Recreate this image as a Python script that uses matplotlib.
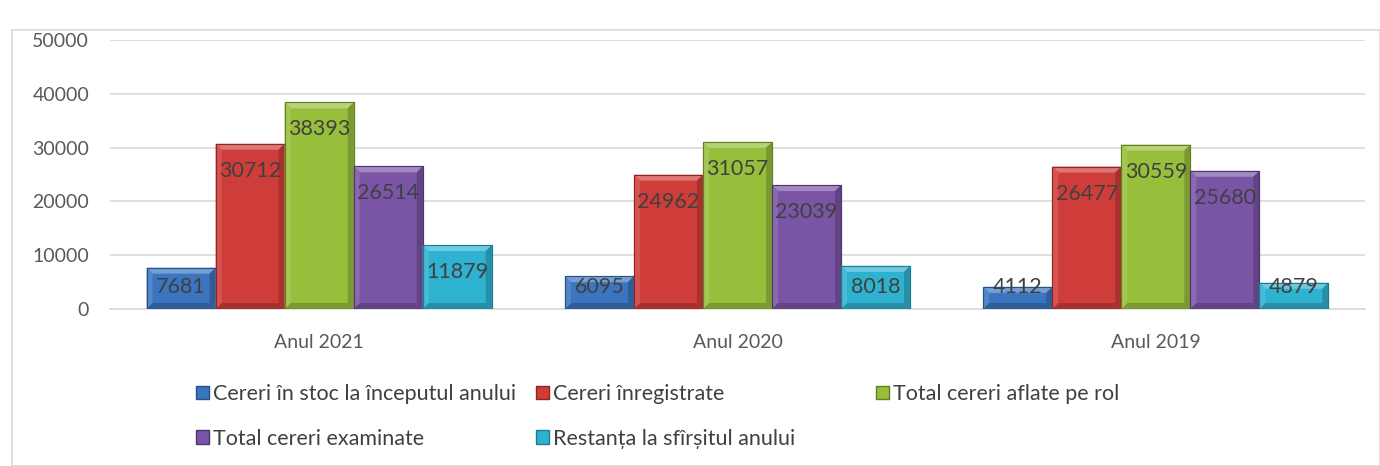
import numpy as np
import matplotlib
matplotlib.use("Agg")
import matplotlib.pyplot as plt
from matplotlib.patches import Rectangle, Patch, Polygon
from matplotlib.colors import to_rgb

plt.rcParams["font.family"] = ["Lato", "DejaVu Sans"]

categories = ["Anul 2021", "Anul 2020", "Anul 2019"]
series = ["Cereri în stoc la începutul anului", "Cereri înregistrate",
          "Total cereri aflate pe rol", "Total cereri examinate",
          "Restanța la sfîrșitul anului"]
stoc = [7681, 6095, 4112]
inregistrate = [30712, 24962, 26477]
pe_rol = [38393, 31057, 30559]
examinate = [26514, 23039, 25680]
restanta = [11879, 8018, 4879]
values = [stoc, inregistrate, pe_rol, examinate, restanta]
colors = ["#3b74bf", "#cf3d3a", "#98bf3c", "#7a55a6", "#2fb2cf"]
edges = ["#24528c", "#8f2624", "#62801f", "#4f3470", "#1c7c93"]


def mix(c, other, t):
    a, b = np.array(to_rgb(c)), np.array(to_rgb(other))
    return tuple(a * (1 - t) + b * t)


fig = plt.figure(figsize=(13.8, 4.66), dpi=100)
fig.patches.append(Rectangle((12 / 1380, 0), 1 - 12 / 1380, 1 - 30 / 466, transform=fig.transFigure,
                             fill=False, edgecolor="#d9d9d9", linewidth=1.2))
ax = fig.add_axes([110 / 1380, (466 - 309) / 466, 1255 / 1380, 269 / 466])
ax.set_ylim(0, 50000)
ax.set_xlim(-0.5, 2.5)

x = np.arange(len(categories))
w = 0.165
ppy = 50000 / 269          # data units per pixel (vertical)
ppx = 3.0 / 1255           # data units per pixel (horizontal)
for i, (vals, c, ec) in enumerate(zip(values, colors, edges)):
    pos = x + (i - 2) * w
    bars = ax.bar(pos, vals, w, color=c, edgecolor=ec, linewidth=0.8, zorder=3)
    for b, v in zip(bars, vals):
        x0, x1 = b.get_x(), b.get_x() + b.get_width()
        dx, dy = 6 * ppx, 6 * ppy
        dy = min(dy, v / 2)
        ax.add_patch(Polygon([(x0, v), (x1, v), (x1 - dx, v - dy), (x0 + dx, v - dy)],
                             closed=True, facecolor=mix(c, "white", 0.3), edgecolor="none", zorder=3.5))
        ax.add_patch(Polygon([(x1, v), (x1, 0), (x1 - dx, dy), (x1 - dx, v - dy)],
                             closed=True, facecolor=mix(c, "black", 0.2), edgecolor="none", zorder=3.5))
        ax.add_patch(Polygon([(x0, 0), (x1, 0), (x1 - dx, dy), (x0 + dx, dy)],
                             closed=True, facecolor=mix(c, "black", 0.2), edgecolor="none", zorder=3.5))
        ax.add_patch(Polygon([(x0, v), (x0, 0), (x0 + dx, dy), (x0 + dx, v - dy)],
                             closed=True, facecolor=mix(c, "white", 0.12), edgecolor="none", zorder=3.5))
        ax.add_patch(Rectangle((x0, 0), x1 - x0, v, fill=False, edgecolor=ec, linewidth=0.8, zorder=3.6))
        yl = max(v - 27 * ppy, 22 * ppy)
        ax.text((x0 + x1) / 2, yl, str(v), ha="center", va="center",
                fontsize=15.5, color="#404040", zorder=4)

ax.set_yticks(range(0, 50001, 10000))
ax.set_xticks(x)
ax.set_xticklabels(categories)
ax.grid(axis="y", color="#d9d9d9", linewidth=1.2, zorder=0)
for s in ["top", "right", "left"]:
    ax.spines[s].set_visible(False)
ax.spines["bottom"].set_color("#d9d9d9")
ax.spines["bottom"].set_linewidth(1.2)
ax.tick_params(axis="both", length=0, labelsize=14, colors="#595959")
ax.tick_params(axis="x", pad=18)
ax.tick_params(axis="y", pad=15)

# legend: Excel-style fixed-width columns, row-major order
handles = [Patch(facecolor=c, edgecolor=ec, label=s) for s, c, ec in zip(series, colors, edges)]
for col in range(3):
    idx = [k for k in range(len(series)) if k % 3 == col]
    leg = fig.legend([handles[k] for k in idx], [series[k] for k in idx], ncol=1,
                     loc="upper left", bbox_to_anchor=((196 + 340 * col) / 1380, 1 - 384 / 466),
                     frameon=False, fontsize=15.5, labelcolor="#404040", handlelength=0.6,
                     handleheight=0.6, handletextpad=0.2, labelspacing=1.15, borderaxespad=0,
                     borderpad=0)

fig.savefig("out.png", dpi=100)
